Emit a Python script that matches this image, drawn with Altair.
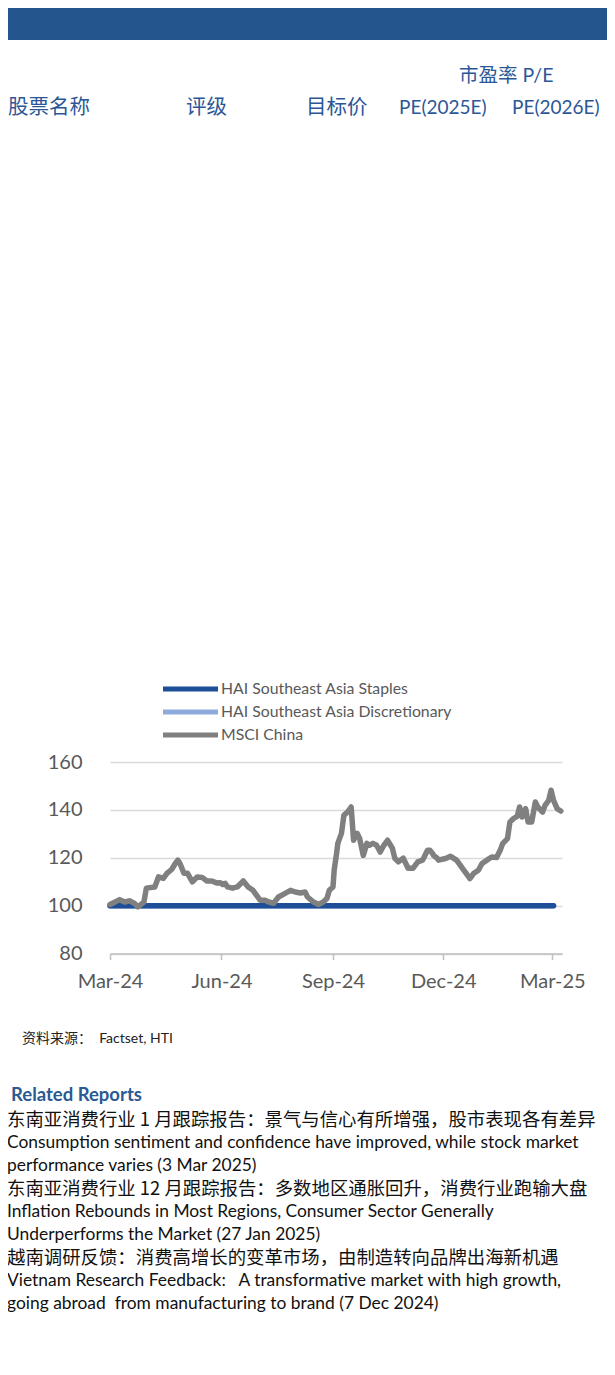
import altair as alt
import pandas as pd

# ---------------- data ----------------
series_names = ["HAI Southeast Asia Staples", "HAI Southeast Asia Discretionary", "MSCI China"]
series_colors = ["#1F4E99", "#8EAADB", "#808080"]

msci_dates = [
    "2024-03-27", "2024-04-04", "2024-04-08", "2024-04-12", "2024-04-16", "2024-04-19",
    "2024-04-24", "2024-04-26", "2024-05-03", "2024-05-06", "2024-05-10", "2024-05-13",
    "2024-05-17", "2024-05-20", "2024-05-22", "2024-05-24", "2024-05-27", "2024-05-30",
    "2024-06-03", "2024-06-07", "2024-06-11", "2024-06-15", "2024-06-19", "2024-06-23",
    "2024-06-26", "2024-06-28", "2024-06-30", "2024-07-02", "2024-07-06", "2024-07-10",
    "2024-07-15", "2024-07-19", "2024-07-23", "2024-07-26", "2024-07-29", "2024-08-02",
    "2024-08-05", "2024-08-09", "2024-08-13", "2024-08-17", "2024-08-23", "2024-08-27",
    "2024-08-31", "2024-09-04", "2024-09-06", "2024-09-11", "2024-09-15", "2024-09-19",
    "2024-09-22", "2024-09-24", "2024-09-27", "2024-09-28", "2024-09-30", "2024-10-01",
    "2024-10-04", "2024-10-06", "2024-10-09", "2024-10-12", "2024-10-13", "2024-10-14",
    "2024-10-17", "2024-10-19", "2024-10-22", "2024-10-25", "2024-10-27", "2024-10-30",
    "2024-11-02", "2024-11-05", "2024-11-08", "2024-11-11", "2024-11-15", "2024-11-17",
    "2024-11-20", "2024-11-24", "2024-11-28", "2024-12-02", "2024-12-06", "2024-12-10",
    "2024-12-14", "2024-12-16", "2024-12-18", "2024-12-19", "2024-12-22", "2024-12-23",
    "2024-12-29", "2025-01-02", "2025-01-07", "2025-01-10", "2025-01-12", "2025-01-16",
    "2025-01-18", "2025-01-21", "2025-01-25", "2025-01-28", "2025-02-01", "2025-02-05",
    "2025-02-09", "2025-02-12", "2025-02-14", "2025-02-18", "2025-02-20", "2025-02-23",
    "2025-02-26", "2025-02-28", "2025-03-02", "2025-03-05", "2025-03-07", "2025-03-10",
    "2025-03-13", "2025-03-15", "2025-03-19", "2025-03-21", "2025-03-24", "2025-03-26",
    "2025-03-28", "2025-03-31", "2025-04-03",
]
msci_values = [
    100.5, 102.5, 101.5, 102.0, 101.0, 99.5,
    101.5, 107.3, 107.8, 112.0, 111.4, 113.5,
    115.2, 117.7, 119.0, 117.3, 113.5, 113.5,
    109.9, 112.0, 111.8, 110.3, 110.3, 109.5,
    109.6, 108.8, 109.3, 107.8, 107.3, 107.8,
    110.3, 107.8, 106.4, 104.3, 102.2, 102.2,
    101.5, 101.0, 103.6, 104.7, 106.4, 105.7,
    105.3, 105.7, 103.6, 101.5, 100.5, 101.5,
    103.0, 106.4, 107.8, 114.8, 121.9, 126.0,
    130.2, 137.7, 139.1, 141.2, 134.4, 127.3,
    130.2, 128.1, 121.0, 126.0, 125.2, 126.0,
    125.2, 122.4, 125.2, 127.3, 124.0, 119.8,
    118.3, 119.8, 115.6, 115.6, 118.3, 119.0,
    123.1, 123.1, 121.9, 121.0, 119.8, 119.0,
    119.7, 120.6, 119.0, 116.9, 115.5, 112.7,
    111.3, 113.4, 114.8, 117.6, 119.0, 120.3,
    120.1, 123.1, 125.9, 128.0, 134.9, 136.4,
    137.3, 141.2, 137.0, 140.5, 134.9, 134.9,
    143.3, 141.2, 139.1, 141.9, 144.0, 148.2,
    144.0, 140.5, 139.5,
]

staples_dates = [
    "2024-03-27", "2024-04-27", "2024-05-27", "2024-06-27", "2024-07-27", "2024-08-27",
    "2024-09-27", "2024-10-27", "2024-11-27", "2024-12-27", "2025-01-27", "2025-02-27",
    "2025-03-28",
]
staples_values = [100, 100, 100, 100, 100, 100, 100, 100, 100, 100, 100, 100, 100]
disc_dates = staples_dates
disc_values = [100, 100, 100, 100, 100, 100, 100, 100, 100, 100, 100, 100, 100]

y_ticks = [80, 100, 120, 140, 160]
x_tick_dates = [(2024, 3, 27), (2024, 6, 27), (2024, 9, 27), (2024, 12, 27), (2025, 3, 27)]
x_domain = [(2024, 3, 27), (2025, 4, 4)]

table_top = "市盈率 P/E"
table_headers = ["股票名称", "评级", "目标价", "PE(2025E)", "PE(2026E)"]
source_text = "资料来源：\u00a0\u00a0Factset, HTI"
related_title = "Related Reports"
report_lines = [
    "东南亚消费行业 1 月跟踪报告：景气与信心有所增强，股市表现各有差异",
    "Consumption sentiment and confidence have improved, while stock market",
    "performance varies (3 Mar 2025)",
    "东南亚消费行业 12 月跟踪报告：多数地区通胀回升，消费行业跑输大盘",
    "Inflation Rebounds in Most Regions, Consumer Sector Generally",
    "Underperforms the Market (27 Jan 2025)",
    "越南调研反馈：消费高增长的变革市场，由制造转向品牌出海新机遇",
    "Vietnam Research Feedback:\u00a0\u00a0 A transformative market with high growth,",
    "going abroad\u00a0 from manufacturing to brand (7 Dec 2024)",
]

# ---------------- tables ----------------
rows = []
for d, v in zip(disc_dates, disc_values):
    rows.append({"date": d, "value": v, "series": series_names[1]})
for d, v in zip(staples_dates, staples_values):
    rows.append({"date": d, "value": v, "series": series_names[0]})
for d, v in zip(msci_dates, msci_values):
    rows.append({"date": d, "value": v, "series": series_names[2]})
df = pd.DataFrame(rows)
one = pd.DataFrame({"k": [0]})

# page coordinate helpers (plot origin at page x=110, y=762)
OX, OY = 110, 762
def px(x):
    return x - OX
def py(y):
    return y - OY

LATIN = "Lato"
CJK = "Noto Sans CJK SC"
MIXED = "Lato, Noto Sans CJK SC"
BLUE_TXT = "#2B5797"

def dt(t):
    return alt.DateTime(year=t[0], month=t[1], date=t[2], utc=True)

x_enc = alt.X(
    "date:T",
    scale=alt.Scale(type="utc", domain=[dt(t) for t in x_domain]),
    axis=alt.Axis(
        values=[dt(t) for t in x_tick_dates], format="%b-%y", title=None,
        labelFlush=False, labelOverlap=False, grid=False,
        domainColor="#BFBFBF", domainWidth=1.5, tickColor="#BFBFBF", tickWidth=1.5,
        tickSize=6, labelFont=LATIN, labelFontSize=20, labelColor="#595959",
        labelPadding=12,
    ),
)
y_enc = alt.Y(
    "value:Q",
    scale=alt.Scale(domain=[80, 160], nice=False, zero=False),
    axis=alt.Axis(
        values=y_ticks, title=None, domain=False, ticks=False, grid=True,
        gridColor="#D9D9D9", gridWidth=1.5, labelFont=LATIN, labelFontSize=20,
        labelColor="#595959", labelPadding=28,
    ),
)
color_enc = alt.Color(
    "series:N",
    scale=alt.Scale(domain=series_names, range=series_colors),
    legend=alt.Legend(
        orient="none", legendX=50.5, legendY=-81, title=None, direction="vertical",
        symbolType="M-1,0H9", symbolSize=121, symbolStrokeWidth=5,
        labelFont=LATIN, labelFontSize=15.8, labelColor="#595959", labelOffset=44.5,
        labelLimit=400, rowPadding=3, padding=0,
    ),
)

def line_layer(name):
    return (
        alt.Chart(df)
        .transform_filter(alt.datum.series == name)
        .mark_line(strokeWidth=5.5, strokeCap="round", strokeJoin="round")
        .encode(x=x_enc, y=y_enc, color=color_enc)
    )

lines = [line_layer(series_names[1]), line_layer(series_names[0]), line_layer(series_names[2])]

def text_at(txt, x, y, font, size, color, weight="normal"):
    return alt.Chart(one).mark_text(
        text=txt, align="left", baseline="middle", font=font, fontSize=size,
        color=color, fontWeight=weight,
    ).encode(x=alt.value(px(x)), y=alt.value(py(y)))

header_bar = alt.Chart(one).mark_rect(color="#24558C").encode(
    x=alt.value(px(8)), x2=alt.value(px(607)), y=alt.value(py(8)), y2=alt.value(py(40))
)

texts = [
    text_at(table_top, 459, 76, MIXED, 19.5, BLUE_TXT),
    text_at(table_headers[0], 8, 108, CJK, 20.5, BLUE_TXT),
    text_at(table_headers[1], 186, 108, CJK, 20.5, BLUE_TXT),
    text_at(table_headers[2], 306, 108, CJK, 20.5, BLUE_TXT),
    text_at(table_headers[3], 399, 108, LATIN, 19, BLUE_TXT),
    text_at(table_headers[4], 512, 108, LATIN, 19, BLUE_TXT),
    text_at(source_text, 22, 1039, MIXED, 14, "#222222"),
    text_at(related_title, 11, 1095, LATIN, 18.5, "#2A5A92", "bold"),
]
for i, line in enumerate(report_lines):
    is_cjk = i % 3 == 0
    texts.append(
        text_at(line, 7, 1119.5 + i * 23.1, CJK if is_cjk else LATIN,
                18.4 if is_cjk else 17.4, "#111111")
    )

chart = alt.layer(header_bar, *texts, *lines).properties(
    width=452, height=191.5,
    autosize=alt.AutoSizeParams(type="none"),
    padding={"left": 102, "top": 754, "right": 45, "bottom": 413.5},
).configure_view(stroke=None)

chart.save("out.html", embed_options={"renderer": "svg", "actions": False})
